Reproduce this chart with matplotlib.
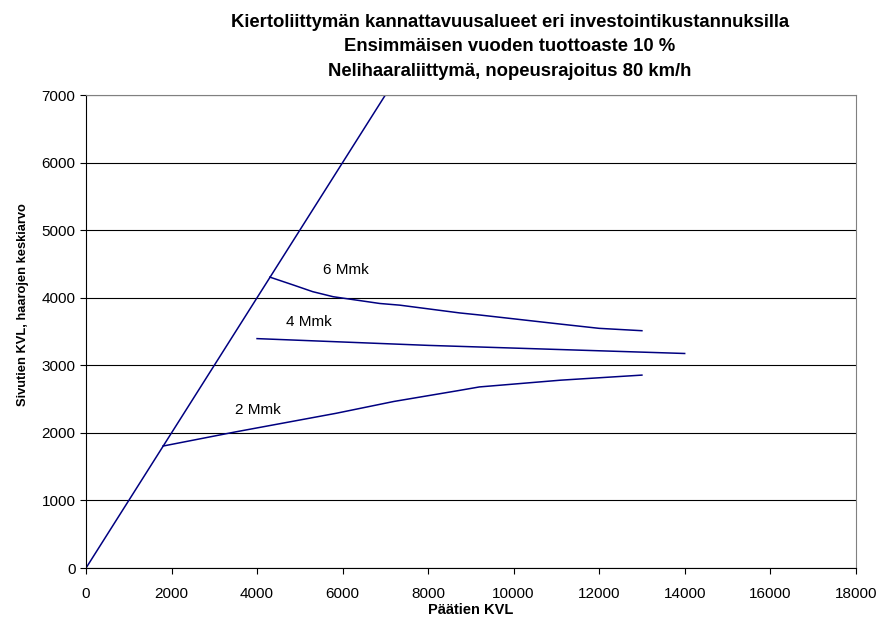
import matplotlib
matplotlib.use("Agg")
import matplotlib.pyplot as plt

plt.rcParams['font.family'] = ['Liberation Sans', 'DejaVu Sans']

# rajaviiva (kiertoliittymä kannattava kun sivutie = päätie)
raja_x = [0, 7000]
raja_y = [0, 7000]

# 2 Mmk
mmk2_x = [1800, 3500, 5850, 7200, 8700, 9200, 11100, 13000]
mmk2_y = [1805, 2015, 2290, 2465, 2625, 2680, 2780, 2855]

# 4 Mmk
mmk4_x = [4000, 6000, 8000, 10000, 12000, 14000]
mmk4_y = [3395, 3345, 3295, 3255, 3215, 3175]

# 6 Mmk
mmk6_x = [4300, 4850, 5300, 5780, 6870, 7340, 8740, 9200, 11080, 12000, 13000]
mmk6_y = [4305, 4188, 4090, 4015, 3915, 3890, 3775, 3745, 3611, 3547, 3512]

labels = ["2 Mmk", "4 Mmk", "6 Mmk"]
label_x = [3480, 4670, 5540]
label_y = [2340, 3640, 4410]

fig = plt.figure(figsize=(8.84, 6.21), dpi=100)
ax = fig.add_axes([0.0973, 0.0853, 0.8707, 0.7617])

col = '#000080'
ax.plot(raja_x, raja_y, color=col, lw=1.1)
ax.plot(mmk2_x, mmk2_y, color=col, lw=1.1)
ax.plot(mmk4_x, mmk4_y, color=col, lw=1.1)
ax.plot(mmk6_x, mmk6_y, color=col, lw=1.1)

for t, x, y in zip(labels, label_x, label_y):
    ax.text(x, y, t, fontsize=11, ha='left', va='center')

ax.set_xlim(0, 18000)
ax.set_ylim(0, 7000)
ax.set_xticks(range(0, 18001, 2000))
ax.set_yticks(range(0, 7001, 1000))
ax.yaxis.grid(True, color='black', lw=0.8)
ax.set_axisbelow(True)
ax.tick_params(labelsize=11, direction='out', length=4, width=0.8)
ax.tick_params(axis='x', pad=10)

for s in ['top', 'right']:
    ax.spines[s].set_color('#808080')
for s in ['left', 'bottom']:
    ax.spines[s].set_color('black')

ax.set_xlabel('Päätien KVL', fontsize=10.5, fontweight='bold', labelpad=1)
ax.set_ylabel('Sivutien KVL, haarojen keskiarvo', fontsize=9.3, fontweight='bold')
ax.yaxis.set_label_coords(-0.074, 0.556)

fig.text(0.577, 0.978, 'Kiertoliittymän kannattavuusalueet eri investointikustannuksilla\n'
         'Ensimmäisen vuoden tuottoaste 10 %\n'
         'Nelihaaraliittymä, nopeusrajoitus 80 km/h',
         ha='center', va='top', fontsize=13.3, fontweight='bold', linespacing=1.6)

fig.savefig('out.png', dpi=100, facecolor='white')
